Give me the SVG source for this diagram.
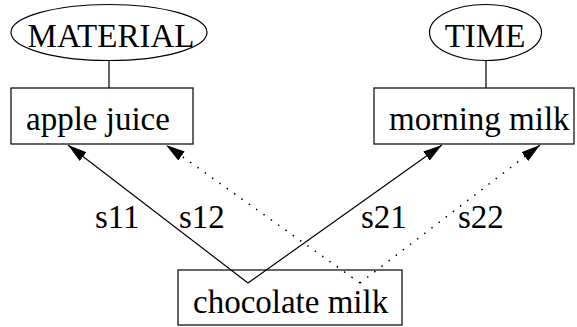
<svg xmlns="http://www.w3.org/2000/svg" width="577" height="327" viewBox="0 0 577 327">
<style>
.t{font-family:"Liberation Serif","Times New Roman",serif;font-size:33px;fill:#000}
.n{fill:#fff;stroke:#000;stroke-width:1.2}
.l{stroke:#000;stroke-width:1.2;fill:none}
.d{stroke:#000;stroke-width:1.5;fill:none;stroke-dasharray:1.5 7.5}
</style>
<defs>
<marker id="ah" markerUnits="userSpaceOnUse" markerWidth="20" markerHeight="12" refX="19" refY="5.5" orient="auto">
<path d="M0,0 L19,5.5 L0,11 z" fill="#000"/>
</marker>
</defs>
<rect width="577" height="327" fill="#fff"/>
<g id="connectors">
<line class="l" x1="109" y1="61" x2="109" y2="88"/>
<line class="l" x1="486" y1="61" x2="486" y2="88"/>
<line class="l" x1="248" y1="283" x2="68" y2="145" marker-end="url(#ah)"/>
<line class="d" x1="360" y1="283" x2="166" y2="145" marker-end="url(#ah)"/>
<line class="l" x1="248" y1="283" x2="442" y2="145" marker-end="url(#ah)"/>
<line class="d" x1="360" y1="283" x2="540" y2="145" marker-end="url(#ah)"/>
<text class="t" x="95" y="228">s11</text>
<text class="t" x="179" y="228">s12</text>
<text class="t" x="361" y="228">s21</text>
<text class="t" x="458" y="228">s22</text>
</g>
<g id="material">
<ellipse class="n" cx="109" cy="32.5" rx="98" ry="28"/>
<text class="t" x="111" y="47" text-anchor="middle">MATERIAL</text>
</g>
<g id="time">
<ellipse class="n" cx="485.5" cy="32.5" rx="56" ry="28"/>
<text class="t" x="485" y="47" text-anchor="middle">TIME</text>
</g>
<g id="apple-juice">
<rect class="n" x="11" y="88" width="182" height="56"/>
<text class="t" x="26" y="130">apple juice</text>
</g>
<g id="morning-milk">
<rect class="n" x="374" y="88" width="200" height="56"/>
<text class="t" x="389" y="130">morning milk</text>
</g>
<g id="chocolate-milk">
<rect class="n" x="178" y="270" width="224" height="55" fill-opacity="0"/>
<text class="t" x="193" y="313">chocolate milk</text>
</g>
</svg>
